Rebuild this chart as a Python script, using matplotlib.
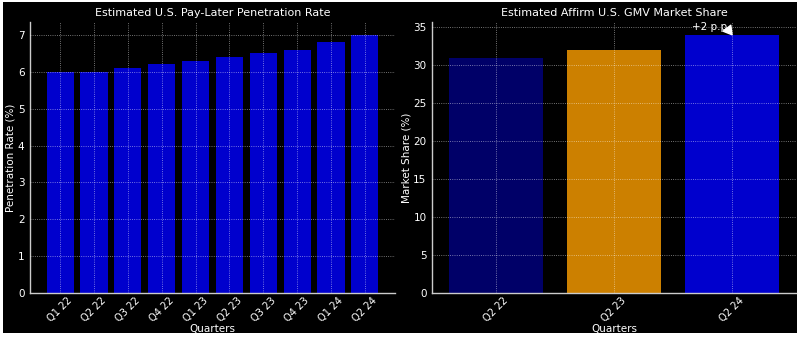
import matplotlib
matplotlib.use("Agg")
import matplotlib.pyplot as plt
from matplotlib.patches import Rectangle

# Data
quarters = ["Q1 22", "Q2 22", "Q3 22", "Q4 22", "Q1 23", "Q2 23", "Q3 23", "Q4 23", "Q1 24", "Q2 24"]
penetration = [6.0, 6.0, 6.1, 6.2, 6.3, 6.4, 6.5, 6.6, 6.8, 7.0]

share_quarters = ["Q2 22", "Q2 23", "Q2 24"]
share_values = [31, 32, 34]
share_colors = ["#000068", "#CC8000", "#0000CD"]

plt.rcParams["font.family"] = "DejaVu Sans"

fig = plt.figure(figsize=(8.0, 3.38), dpi=100, facecolor="white")
# dark canvas with a thin light frame
fig.patches.append(Rectangle((3 / 800, 5 / 338), 794 / 800, 331 / 338,
                             transform=fig.transFigure, facecolor="black",
                             edgecolor="none", zorder=-10))

ax1 = fig.add_axes([30 / 800, 1 - 293 / 338, 365 / 800, 271 / 338])
ax2 = fig.add_axes([432 / 800, 1 - 293 / 338, 364 / 800, 271 / 338])

def style(ax):
    ax.set_facecolor("black")
    for s in ("top", "right"):
        ax.spines[s].set_visible(False)
    for s in ("left", "bottom"):
        ax.spines[s].set_color("#cccccc")
        ax.spines[s].set_linewidth(1.0)
    ax.tick_params(axis="y", colors="white", labelsize=7.5, length=0, pad=4)
    ax.tick_params(axis="x", colors="white", labelsize=7.2, length=0, pad=2)
    ax.grid(True, color="white", linestyle=":", linewidth=0.6, alpha=0.6)
    ax.set_axisbelow(False)

# Left panel
x1 = range(len(quarters))
ax1.bar(x1, penetration, width=0.8, color="#0000CD")
ax1.set_xticks(list(x1))
ax1.set_xticklabels(quarters, rotation=45)
ax1.set_ylim(0, max(penetration) * 1.05)
ax1.set_title("Estimated U.S. Pay-Later Penetration Rate", color="white", fontsize=8, pad=4)
ax1.set_xlabel("Quarters", color="white", fontsize=7.5, labelpad=0)
ax1.set_ylabel("Penetration Rate (%)", color="white", fontsize=7.5, labelpad=2)
style(ax1)

# Right panel
x2 = range(len(share_quarters))
ax2.bar(x2, share_values, width=0.8, color=share_colors)
ax2.set_xticks(list(x2))
ax2.set_xticklabels(share_quarters, rotation=45)
ax2.set_ylim(0, max(share_values) * 1.05)
ax2.set_title("Estimated Affirm U.S. GMV Market Share", color="white", fontsize=8, pad=4)
ax2.set_xlabel("Quarters", color="white", fontsize=7.5, labelpad=0)
ax2.set_ylabel("Market Share (%)", color="white", fontsize=7.5, labelpad=1)
style(ax2)

ax2.annotate("+2 p.p.", xy=(2, share_values[2]), xytext=(1.82, 35.0),
             ha="center", va="center", color="white", fontsize=7.5,
             arrowprops=dict(facecolor="white", edgecolor="white",
                             width=1, headwidth=7, headlength=6, shrink=0.05))

fig.savefig("out.png", dpi=100, facecolor=fig.get_facecolor())
